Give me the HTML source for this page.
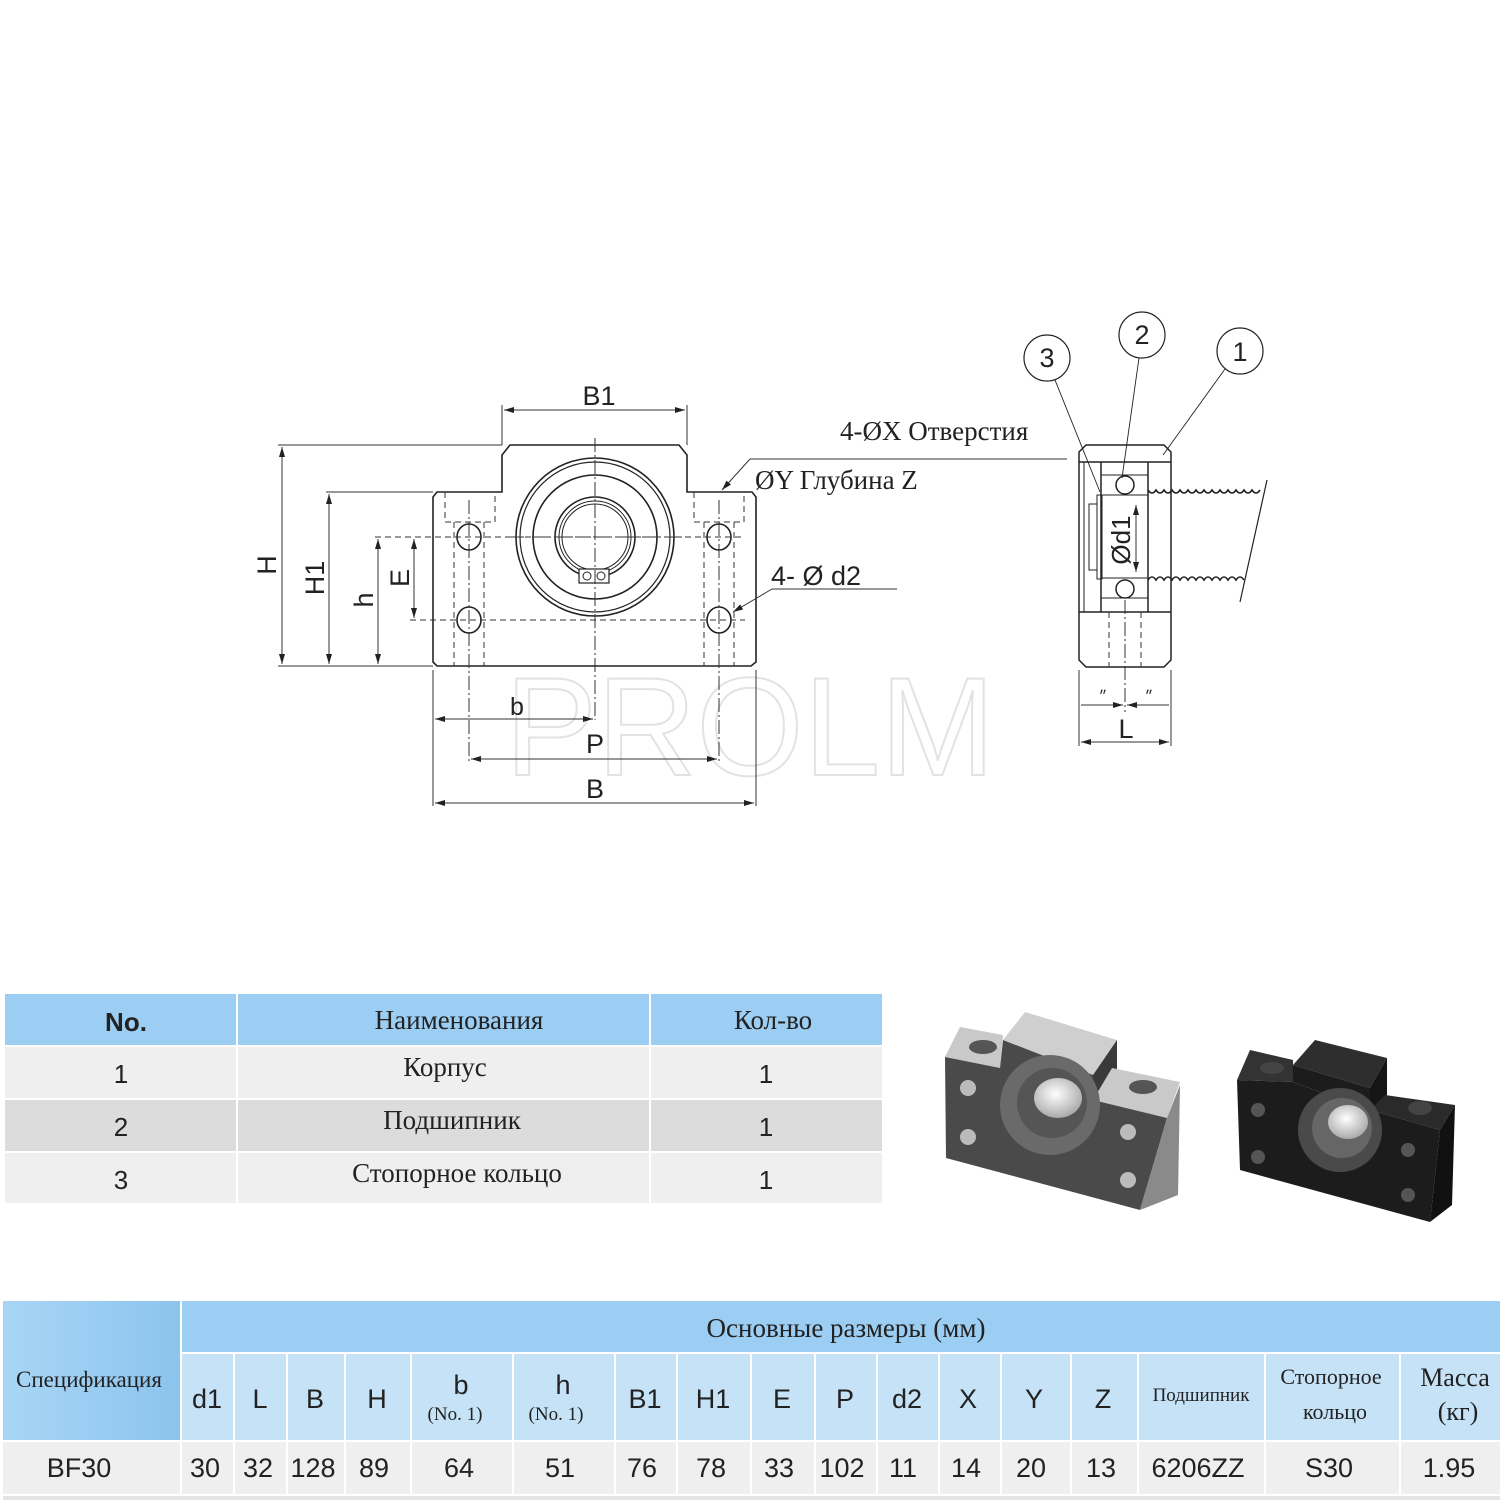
<!DOCTYPE html>
<html><head><meta charset="utf-8">
<style>
html,body{margin:0;padding:0;background:#fff;}
svg{display:block;}
.s{font-family:"Liberation Sans","DejaVu Sans",sans-serif;}
.r{font-family:"Liberation Serif","DejaVu Serif",serif;}
</style></head><body>
<svg width="1500" height="1500" viewBox="0 0 1500 1500" xmlns="http://www.w3.org/2000/svg">
<defs>
<marker id="a" viewBox="0 0 10 6" refX="10" refY="3" markerWidth="14" markerHeight="6" markerUnits="userSpaceOnUse" orient="auto-start-reverse"><path d="M0,0L10,3L0,6z" fill="#222"/></marker>
<linearGradient id="spec" x1="0" y1="0" x2="1" y2="0"><stop offset="0" stop-color="#a9d5f5"/><stop offset="1" stop-color="#8cc4ee"/></linearGradient>
<radialGradient id="bore" cx="0.45" cy="0.4" r="0.6"><stop offset="0" stop-color="#fff"/><stop offset="1" stop-color="#aaa"/></radialGradient>
</defs>

<text x="505" y="775" class="s" font-size="140" fill="none" stroke="#e2e2e2" stroke-width="2" textLength="490" lengthAdjust="spacingAndGlyphs">PROLM</text>

<g stroke="#222" fill="none" stroke-width="1.6">
<path d="M437,492 L502,492 L502,455 L510,445 L679,445 L687,455 L687,492 L752,492 L756,497 L756,662 L751,666 L437,666 L433,662 L433,497 Z"/>
<circle cx="595" cy="537" r="79"/>
<circle cx="595" cy="537" r="75" stroke-width="1.2"/>
<circle cx="595" cy="537" r="62"/>
<circle cx="595" cy="537" r="40"/>
<circle cx="595" cy="537" r="36" stroke-width="1"/>
<circle cx="595" cy="537" r="33" stroke-width="1"/>
<rect x="579" y="569" width="30" height="14" stroke-width="1.2" fill="#fff"/>
<circle cx="587" cy="576" r="4" stroke-width="1"/><circle cx="601" cy="576" r="4" stroke-width="1"/>
<ellipse cx="469" cy="537" rx="12" ry="13"/><ellipse cx="719" cy="537" rx="12" ry="13"/>
<ellipse cx="469" cy="620" rx="12" ry="13"/><ellipse cx="719" cy="620" rx="12" ry="13"/>
</g>
<g stroke="#333" fill="none" stroke-width="1" stroke-dasharray="6,4">
<path d="M445,492 V522 H495 V492"/><path d="M694,492 V522 H744 V492"/>
<path d="M454,522 V666 M484,522 V666 M704,522 V666 M734,522 V666"/>
<path d="M375,537 H745 M410,620 H745"/>
</g>
<g stroke="#333" fill="none" stroke-width="1" stroke-dasharray="14,3,2,3">
<path d="M595,438 V720"/><path d="M469,500 V762"/><path d="M719,500 V762"/><path d="M510,537 H682"/>
</g>
<g stroke="#333" fill="none" stroke-width="1">
<path d="M278,445 H502 M326,492 H433 M278,666 H433"/>
<path d="M433,670 V806 M756,670 V806"/>
<path d="M502,405 V445 M687,405 V445"/>
<path d="M282,447 V664" marker-start="url(#a)" marker-end="url(#a)"/>
<path d="M329,494 V664" marker-start="url(#a)" marker-end="url(#a)"/>
<path d="M378,539 V664" marker-start="url(#a)" marker-end="url(#a)"/>
<path d="M414,539 V618" marker-start="url(#a)" marker-end="url(#a)"/>
<path d="M504,410 H685" marker-start="url(#a)" marker-end="url(#a)"/>
<path d="M435,719 H593" marker-start="url(#a)" marker-end="url(#a)"/>
<path d="M471,759 H717" marker-start="url(#a)" marker-end="url(#a)"/>
<path d="M435,803 H754" marker-start="url(#a)" marker-end="url(#a)"/>
<path d="M1067,459 H750 L722,490" marker-end="url(#a)"/>
<path d="M897,589 H772 L733,612" marker-end="url(#a)"/>
</g>
<g class="s" font-size="27" fill="#222" text-anchor="middle">
<text x="599" y="405">B1</text>
<text x="517" y="715" font-size="25">b</text>
<text x="595" y="753">P</text>
<text x="595" y="798">B</text>
<text transform="translate(276,565) rotate(-90)">H</text>
<text transform="translate(324,578) rotate(-90)">H1</text>
<text transform="translate(373,600) rotate(-90)">h</text>
<text transform="translate(409,578) rotate(-90)">E</text>
<text x="816" y="585" font-size="27">4- Ø d2</text>
</g>
<text x="755" y="489" class="r" font-size="27" fill="#222">ØY Глубина  Z</text>
<text x="840" y="440" class="r" font-size="27" fill="#222">4-ØX Отверстия</text>

<g stroke="#222" fill="none" stroke-width="1.5">
<path d="M1086,445 H1164 L1171,452 V660 L1164,667 H1086 L1079,660 V452 Z"/>
<path d="M1079,462 H1171 M1079,612 H1171"/>
<path d="M1101,462 V612 M1148,462 V612"/>
<path d="M1084,462 V612" stroke-width="1"/>
<path d="M1101,475 H1148 M1101,495 H1148 M1101,578 H1148 M1101,598 H1148" stroke-width="1"/>
<circle cx="1125" cy="485" r="9" fill="#fff"/><circle cx="1125" cy="589" r="9" fill="#fff"/>
<rect x="1097" y="495" width="5" height="84" stroke-width="1"/>
<rect x="1089" y="504" width="8" height="66" stroke-width="1"/>
<path d="M1148,490 q4,6 8,0 q4,6 8,0 q4,6 8,0 q4,6 8,0 q4,6 8,0 q4,6 8,0 q4,6 8,0 q4,6 8,0 q4,6 8,0 q4,6 8,0 q4,6 8,0 q4,6 8,0 q4,6 8,0 q4,6 8,0" stroke-width="1.6"/>
<path d="M1148,580 q4,-6 8,0 q4,-6 8,0 q4,-6 8,0 q4,-6 8,0 q4,-6 8,0 q4,-6 8,0 q4,-6 8,0 q4,-6 8,0 q4,-6 8,0 q4,-6 8,0 q4,-6 8,0 q4,-6 8,0" stroke-width="1.6"/>
<path d="M1267,480 L1240,602" stroke-width="1.2"/>
<circle cx="1047" cy="358" r="23" stroke-width="1.2"/>
<circle cx="1142" cy="335" r="23" stroke-width="1.2"/>
<circle cx="1240" cy="351" r="23" stroke-width="1.2"/>
<path d="M1055,380 L1100,492 M1139,358 L1122,478 M1225,369 L1163,455" stroke-width="0.9"/>
</g>
<g stroke="#333" fill="none" stroke-width="1">
<path d="M1109,612 V667 M1141,612 V667" stroke-dasharray="6,4"/>
<path d="M1125,600 V712" stroke-dasharray="14,3,2,3"/>
<path d="M1079,670 V746 M1171,670 V746"/>
<path d="M1136,505 V572" marker-start="url(#a)" marker-end="url(#a)"/>
<path d="M1081,705 H1123" marker-end="url(#a)"/><path d="M1127,705 H1169" marker-start="url(#a)"/>
<path d="M1081,742 H1169" marker-start="url(#a)" marker-end="url(#a)"/>
</g>
<g class="s" font-size="27" fill="#222" text-anchor="middle">
<text x="1047" y="367">3</text><text x="1142" y="344">2</text><text x="1240" y="361">1</text>
<text x="1126" y="738">L</text>
<text transform="translate(1130,540) rotate(-90)" font-size="26">Ød1</text>
<text x="1103" y="701" font-size="14">״</text><text x="1149" y="701" font-size="14">״</text>
</g>

<rect x="5" y="994" width="231" height="51" fill="#9ccdf2"/>
<rect x="238" y="994" width="411" height="51" fill="#9ccdf2"/>
<rect x="651" y="994" width="231" height="51" fill="#9ccdf2"/>
<g fill="#efefef"><rect x="5" y="1047" width="231" height="51"/><rect x="238" y="1047" width="411" height="51"/><rect x="651" y="1047" width="231" height="51"/></g>
<g fill="#dcdcdc"><rect x="5" y="1100" width="231" height="51"/><rect x="238" y="1100" width="411" height="51"/><rect x="651" y="1100" width="231" height="51"/></g>
<g fill="#efefef"><rect x="5" y="1153" width="231" height="50"/><rect x="238" y="1153" width="411" height="50"/><rect x="651" y="1153" width="231" height="50"/></g>
<g font-size="27" fill="#222" text-anchor="middle">
<text x="126" y="1031" class="s" font-weight="bold" font-size="26">No.</text>
<text x="459" y="1029" class="r">Наименования</text>
<text x="773" y="1029" class="r">Кол-во</text>
<text x="121" y="1083" class="s" font-size="26">1</text><text x="445" y="1076" class="r">Корпус</text><text x="766" y="1083" class="s" font-size="26">1</text>
<text x="121" y="1136" class="s" font-size="26">2</text><text x="452" y="1129" class="r">Подшипник</text><text x="766" y="1136" class="s" font-size="26">1</text>
<text x="121" y="1189" class="s" font-size="26">3</text><text x="457" y="1182" class="r">Стопорное кольцо</text><text x="766" y="1189" class="s" font-size="26">1</text>
</g>

<!-- photo 1 -->
<g>
<polygon points="960,1027 1003,1035 1000,1068 945,1057" fill="#c9c9c9"/>
<polygon points="1003,1040 1025,1012 1117,1040 1093,1075" fill="#cfcfcf"/>
<polygon points="1093,1075 1117,1040 1117,1075 1093,1100" fill="#3a3a3a"/>
<polygon points="1093,1100 1112,1068 1180,1082 1167,1118" fill="#c9c9c9"/>
<polygon points="945,1057 1000,1068 1003,1040 1093,1075 1093,1100 1167,1118 1140,1210 946,1158" fill="#4a4a4a"/>
<polygon points="1167,1118 1180,1085 1178,1195 1140,1210" fill="#8a8a8a"/>
<circle cx="1050" cy="1105" r="50" fill="#6a6a6a"/><circle cx="1052" cy="1103" r="35" fill="#555"/>
<ellipse cx="1058" cy="1098" rx="24" ry="20" fill="url(#bore)"/>
<ellipse cx="983" cy="1047" rx="14" ry="7" fill="#555"/><ellipse cx="1143" cy="1087" rx="14" ry="7" fill="#555"/>
<circle cx="968" cy="1088" r="8" fill="#bbb"/><circle cx="968" cy="1137" r="8" fill="#bbb"/>
<circle cx="1128" cy="1132" r="8" fill="#bbb"/><circle cx="1128" cy="1180" r="8" fill="#bbb"/>
</g>
<!-- photo 2 -->
<g>
<polygon points="1250,1050 1293,1060 1293,1082 1237,1080" fill="#333"/>
<polygon points="1293,1065 1315,1040 1387,1058 1370,1088" fill="#2e2e2e"/>
<polygon points="1293,1065 1370,1088 1370,1110 1293,1082" fill="#1c1c1c"/>
<polygon points="1370,1088 1387,1058 1387,1095 1370,1110" fill="#151515"/>
<polygon points="1370,1110 1385,1095 1455,1105 1440,1130" fill="#2a2a2a"/>
<polygon points="1237,1080 1293,1082 1370,1110 1440,1130 1430,1222 1240,1170" fill="#1c1c1c"/>
<polygon points="1440,1130 1455,1105 1452,1205 1430,1222" fill="#111"/>
<circle cx="1340" cy="1130" r="42" fill="#4a4a4a"/><circle cx="1342" cy="1128" r="30" fill="#666"/>
<ellipse cx="1348" cy="1122" rx="20" ry="17" fill="url(#bore)"/>
<ellipse cx="1272" cy="1068" rx="12" ry="6" fill="#444"/><ellipse cx="1420" cy="1108" rx="12" ry="7" fill="#444"/>
<circle cx="1258" cy="1110" r="7" fill="#555"/><circle cx="1258" cy="1157" r="7" fill="#555"/>
<circle cx="1408" cy="1150" r="7" fill="#555"/><circle cx="1408" cy="1195" r="7" fill="#555"/>
</g>

<rect x="3" y="1301" width="177" height="139" fill="url(#spec)"/>
<rect x="182" y="1301" width="1318" height="51" fill="#9ccdf2"/>
<g fill="#c5e2f7">
<rect x="182" y="1354" width="51" height="86"/><rect x="235" y="1354" width="51" height="86"/><rect x="288" y="1354" width="56" height="86"/><rect x="346" y="1354" width="64" height="86"/><rect x="412" y="1354" width="100" height="86"/><rect x="514" y="1354" width="100" height="86"/><rect x="616" y="1354" width="60" height="86"/><rect x="678" y="1354" width="72" height="86"/><rect x="752" y="1354" width="62" height="86"/><rect x="816" y="1354" width="60" height="86"/><rect x="878" y="1354" width="60" height="86"/><rect x="940" y="1354" width="60" height="86"/><rect x="1002" y="1354" width="68" height="86"/><rect x="1072" y="1354" width="65" height="86"/><rect x="1139" y="1354" width="125" height="86"/><rect x="1266" y="1354" width="133" height="86"/><rect x="1401" y="1354" width="99" height="86"/>
</g>
<g fill="#efefef">
<rect x="3" y="1442" width="177" height="52"/><rect x="182" y="1442" width="51" height="52"/><rect x="235" y="1442" width="51" height="52"/><rect x="288" y="1442" width="56" height="52"/><rect x="346" y="1442" width="64" height="52"/><rect x="412" y="1442" width="100" height="52"/><rect x="514" y="1442" width="100" height="52"/><rect x="616" y="1442" width="60" height="52"/><rect x="678" y="1442" width="72" height="52"/><rect x="752" y="1442" width="62" height="52"/><rect x="816" y="1442" width="60" height="52"/><rect x="878" y="1442" width="60" height="52"/><rect x="940" y="1442" width="60" height="52"/><rect x="1002" y="1442" width="68" height="52"/><rect x="1072" y="1442" width="65" height="52"/><rect x="1139" y="1442" width="125" height="52"/><rect x="1266" y="1442" width="133" height="52"/><rect x="1401" y="1442" width="99" height="52"/>
</g>
<rect x="3" y="1496" width="1497" height="4" fill="#e4e4e4"/>
<g fill="#222" text-anchor="middle">
<text x="846" y="1337" class="r" font-size="27">Основные размеры (мм)</text>
<text x="89" y="1387" class="r" font-size="23">Спецификация</text>
<g class="s" font-size="27">
<text x="207" y="1408">d1</text><text x="260" y="1408">L</text><text x="315" y="1408">B</text><text x="377" y="1408">H</text>
<text x="461" y="1394">b</text><text x="563" y="1394">h</text>
<text x="645" y="1408">B1</text><text x="713" y="1408">H1</text><text x="782" y="1408">E</text><text x="845" y="1408">P</text><text x="907" y="1408">d2</text><text x="968" y="1408">X</text><text x="1034" y="1408">Y</text><text x="1103" y="1408">Z</text>
</g>
<text x="455" y="1420" class="r" font-size="19">(No. 1)</text><text x="556" y="1420" class="r" font-size="19">(No. 1)</text>
<text x="1201" y="1401" class="r" font-size="19">Подшипник</text>
<text x="1331" y="1384" class="r" font-size="22">Стопорное</text><text x="1335" y="1419" class="r" font-size="22">кольцо</text>
<text x="1455" y="1386" class="r" font-size="26">Масса</text><text x="1458" y="1420" class="r" font-size="26">(кг)</text>
<g class="s" font-size="27">
<text x="79" y="1477">BF30</text><text x="205" y="1477">30</text><text x="258" y="1477">32</text><text x="313" y="1477">128</text><text x="374" y="1477">89</text><text x="459" y="1477">64</text><text x="560" y="1477">51</text><text x="642" y="1477">76</text><text x="711" y="1477">78</text><text x="779" y="1477">33</text><text x="842" y="1477">102</text><text x="903" y="1477">11</text><text x="966" y="1477">14</text><text x="1031" y="1477">20</text><text x="1101" y="1477">13</text><text x="1198" y="1477">6206ZZ</text><text x="1329" y="1477">S30</text><text x="1449" y="1477">1.95</text>
</g>
</g>
</svg>
</body></html>
